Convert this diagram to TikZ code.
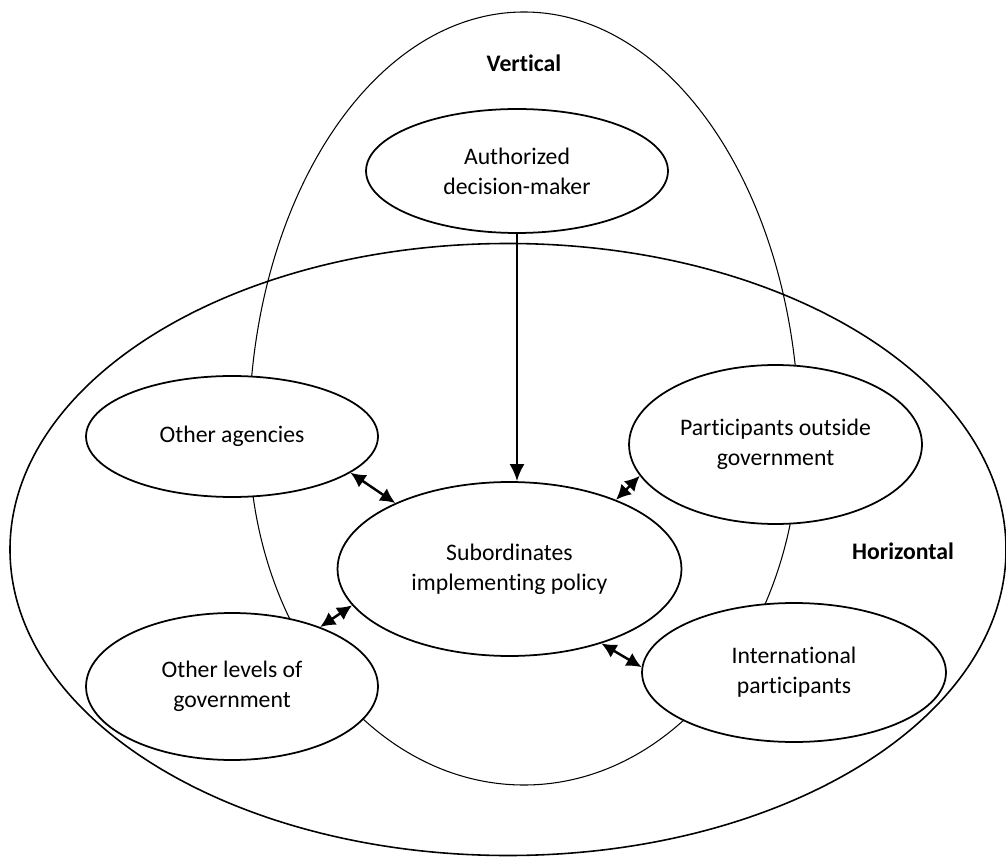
\documentclass[tikz,border=0pt]{standalone}
\usepackage{fontspec}
\setmainfont[Ligatures=NoCommon]{Carlito}
\usetikzlibrary{shapes.geometric,arrows.meta}
\tikzset{bubble/.style={draw, ellipse, fill=white, line width=1pt, inner sep=0pt, align=center, font=\fontsize{13.5}{17}\selectfont}, tag/.style={font=\fontsize{13.5}{17}\selectfont\bfseries}, line/.style={-{Latex[length=3.4mm,width=3mm]}, line width=1.4pt}, dline/.style={{Latex[length=3mm,width=3mm]}-{Latex[length=3mm,width=3mm]}, line width=1.4pt}}

\begin{document}
\begin{tikzpicture}[x=0.02cm, y=-0.02cm]
    \useasboundingbox (0,0) rectangle (1006,857);
    \draw[line width=0.6pt] (249,436) arc[start angle=180, end angle=360, x radius=275, y radius=424]
        arc[start angle=0, end angle=180, x radius=275, y radius=349];
    \draw[line width=0.9pt] (508,549.5) ellipse[x radius=498, y radius=306];

    \node[tag]                                               (vert)  at (524,63)    {Vertical};
    \node[tag]                                               (horiz) at (903,551)   {Horizontal};
    \node[bubble, minimum width=6.04cm, minimum height=2.48cm] (auth)  at (517,171)   {Authorized\\decision-maker};
    \node[bubble, minimum width=5.84cm, minimum height=2.42cm] (oa)    at (232,436.5) {Other agencies};
    \node[bubble, minimum width=5.86cm, minimum height=3.18cm] (pog)   at (775.5,444.5) {Participants outside\\government};
    \node[bubble, minimum width=6.88cm, minimum height=3.48cm] (sub)   at (509.5,569) {Subordinates\\implementing policy};
    \node[bubble, minimum width=5.84cm, minimum height=2.94cm] (olg)   at (232,686.5) {Other levels of\\government};
    \node[bubble, minimum width=6.08cm, minimum height=2.78cm] (ip)    at (794,672.5) {International\\participants};

    \draw[line]               (auth.south) -- (auth.south |- sub.north);
    \draw[dline]              (oa.-17) -- (sub.150);
    \draw[dline]              (pog.-167) -- (sub.33);
    \draw[dline]              (olg.34) -- (sub.193);
    \draw[dline]              (ip.178) -- (sub.-39);
\end{tikzpicture}
\end{document}
